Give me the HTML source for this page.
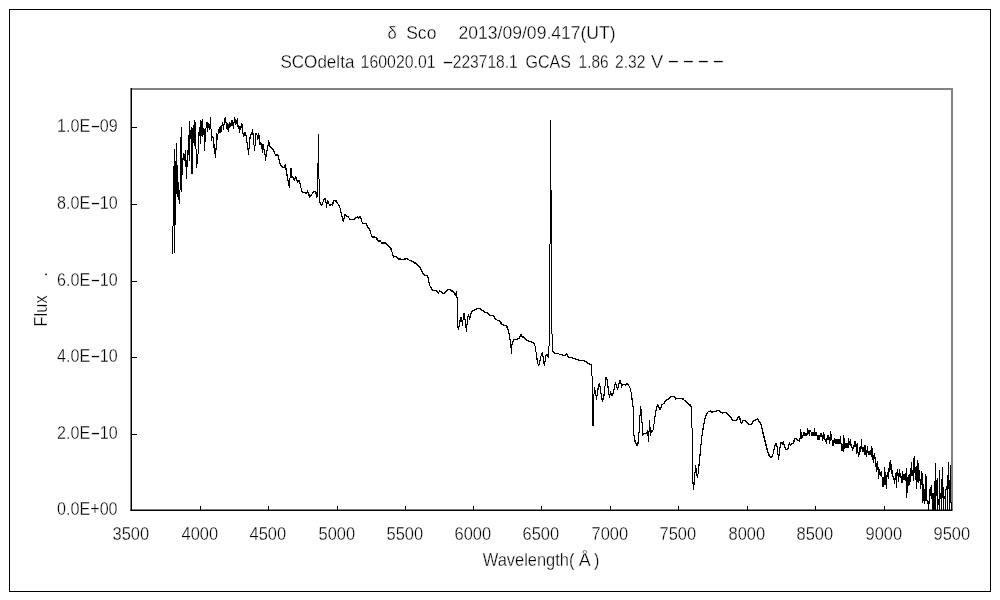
<!DOCTYPE html>
<html lang="ja">
<head>
<meta charset="utf-8">
<title>δ Sco 2013/09/09.417(UT)</title>
<style>
html,body{margin:0;padding:0;background:#fff;}
body{width:1000px;height:600px;overflow:hidden;}
svg{display:block;filter:grayscale(1);}
text{font-family:"Liberation Sans","IPAGothic",sans-serif;font-size:17.6px;fill:#000;stroke:#fff;stroke-width:0.3px;paint-order:normal;}
</style>
</head>
<body>
<svg width="1000" height="600" viewBox="0 0 1000 600">
<rect x="0" y="0" width="1000" height="600" fill="#fff"/>
<rect x="9.5" y="9.5" width="981" height="582" fill="none" stroke="#000" stroke-width="1"/>
<path d="M131 89H953" stroke="#828282" stroke-width="2" fill="none"/>
<path d="M952 88V510" stroke="#828282" stroke-width="2" fill="none"/>
<path d="M131.25 88V511" stroke="#000" stroke-width="1.5" fill="none"/>
<path d="M130.5 510.25H952.5" stroke="#000" stroke-width="1.5" fill="none"/>
<path d="M200.5 506V510M268.5 506V510M337.5 506V510M405.5 506V510M473.5 506V510M541.5 506V510M610.5 506V510M678.5 506V510M747.5 506V510M815.5 506V510M884.5 506V510M131 434.5H137M131 357.5H137M131 281.5H137M131 204.5H137M131 127.5H137" stroke="#000" stroke-width="1" fill="none" shape-rendering="crispEdges"/>
<path d="M172.5 226V254M173.5 166V226M174.5 149V253M175.5 161V225M176.5 143V194M177.5 165V197M178.5 182V200M179.5 190V204M180.5 137V190M181.5 127V192M182.5 158V175M183.5 153V160M184.5 154V161M185.5 150V167M186.5 160V179M187.5 150V167M188.5 135V155M189.5 121V161M190.5 130V139M191.5 127V174M192.5 128V174M193.5 125V143M194.5 120V146M195.5 122V149M196.5 149V168M197.5 154V164M198.5 132V154M199.5 127V136M200.5 120V144M201.5 121V136M202.5 119V137M203.5 128V135M204.5 129V151M205.5 128V142M206.5 122V128M207.5 122V132M208.5 123V128M209.5 124V130M210.5 117V129M211.5 129V141M212.5 136V138M213.5 137V148M214.5 144V154M215.5 148V158M216.5 133V150M217.5 134V140M218.5 129V134M219.5 127V133M220.5 126V133M221.5 125V132M222.5 122V126M223.5 124V130M224.5 118V125M225.5 117V123M226.5 122V129M227.5 123V130M228.5 124V132M229.5 122V128M230.5 123V127M231.5 120V126M232.5 120V126M233.5 122V129M234.5 117V123M235.5 119V125M236.5 120V124M237.5 118V127M238.5 125V129M239.5 126V133M240.5 126V130M241.5 123V128M242.5 124V134M243.5 133V137M244.5 132V136M245.5 132V136M246.5 135V143M247.5 142V150M248.5 148V155M249.5 137V149M250.5 134V139M251.5 132V135M252.5 129V135M253.5 133V145M254.5 145V151M255.5 133V146M256.5 133V135M257.5 135V140M258.5 133V139M259.5 135V145M260.5 142V145M261.5 143V149M262.5 144V153M263.5 144V150M264.5 149V155M265.5 154V161M266.5 150V157M267.5 145V151M268.5 140V146M269.5 142V147M270.5 146V148M271.5 147V149M272.5 148V150M273.5 149V152M274.5 151V154M275.5 154V156M276.5 154V156M277.5 154V156M278.5 155V160M279.5 159V164M280.5 163V166M281.5 165V167M282.5 166V168M283.5 167V168M284.5 165V168M285.5 164V170M286.5 168V176M287.5 174V181M288.5 180V186M289.5 178V188M290.5 168V178M291.5 168V178M292.5 176V178M293.5 177V180M294.5 178V181M295.5 176V179M296.5 177V181M297.5 180V183M298.5 180V182M299.5 180V184M300.5 183V188M301.5 188V192M302.5 191V193M303.5 192V193M304.5 192V193M305.5 192V194M306.5 192V194M307.5 190V193M308.5 192V196M309.5 194V198M310.5 195V197M311.5 194V196M312.5 192V194M313.5 191V193M314.5 191V192M315.5 191V194M316.5 192V198M317.5 163V197M318.5 134V179M319.5 179V203M320.5 202V205M321.5 204V206M322.5 202V205M323.5 199V202M324.5 198V200M325.5 198V203M326.5 202V208M327.5 200V204M328.5 201V204M329.5 204V206M330.5 204V206M331.5 204V205M332.5 202V206M333.5 200V204M334.5 200V201M335.5 200V202M336.5 200V203M337.5 202V204M338.5 204V206M339.5 205V208M340.5 208V213M341.5 212V217M342.5 216V221M343.5 218V222M344.5 214V219M345.5 214V216M346.5 215V217M347.5 216V217M348.5 216V218M349.5 218V220M350.5 219V220M351.5 219V220M352.5 219V220M353.5 219V220M354.5 218V220M355.5 217V219M356.5 217V218M357.5 216V218M358.5 217V219M359.5 216V218M360.5 216V219M361.5 218V222M362.5 222V224M363.5 223V224M364.5 223V224M365.5 223V224M366.5 223V226M367.5 225V228M368.5 227V229M369.5 228V231M370.5 230V234M371.5 234V237M372.5 236V238M373.5 236V238M374.5 236V238M375.5 237V238M376.5 237V240M377.5 238V241M378.5 240V242M379.5 240V242M380.5 240V242M381.5 242V244M382.5 242V244M383.5 242V244M384.5 242V244M385.5 242V244M386.5 243V245M387.5 244V246M388.5 245V247M389.5 246V248M390.5 247V250M391.5 248V252M392.5 252V256M393.5 255V258M394.5 256V257M395.5 256V257M396.5 256V258M397.5 257V259M398.5 258V260M399.5 258V260M400.5 258V260M401.5 259V260M402.5 259V260M403.5 259V260M404.5 258V260M405.5 258V260M406.5 258V259M407.5 258V260M408.5 259V260M409.5 260V261M410.5 260V261M411.5 260V262M412.5 261V262M413.5 261V263M414.5 262V264M415.5 262V264M416.5 263V265M417.5 264V266M418.5 265V267M419.5 266V268M420.5 267V270M421.5 269V272M422.5 271V274M423.5 273V275M424.5 274V276M425.5 275V276M426.5 275V276M427.5 275V278M428.5 277V283M429.5 282V286M430.5 286V288M431.5 287V290M432.5 289V291M433.5 290V291M434.5 290V291M435.5 290V291M436.5 290V292M437.5 291V293M438.5 292V294M439.5 290V292M440.5 291V292M441.5 291V293M442.5 292V294M443.5 293V294M444.5 292V294M445.5 291V293M446.5 290V292M447.5 289V291M448.5 289V290M449.5 289V290M450.5 289V291M451.5 290V292M452.5 290V292M453.5 291V293M454.5 292V295M455.5 293V296M456.5 291V298M457.5 297V328M458.5 326V330M459.5 320V327M460.5 317V322M461.5 317V322M462.5 320V326M463.5 313V320M464.5 313V320M465.5 319V328M466.5 324V332M467.5 316V325M468.5 314V317M469.5 316V320M470.5 313V318M471.5 311V314M472.5 310V312M473.5 310V311M474.5 309V311M475.5 309V310M476.5 308V310M477.5 308V309M478.5 308V309M479.5 308V309M480.5 308V310M481.5 309V311M482.5 310V311M483.5 310V312M484.5 311V313M485.5 312V313M486.5 312V313M487.5 312V314M488.5 313V315M489.5 314V316M490.5 315V316M491.5 315V316M492.5 315V316M493.5 315V317M494.5 316V319M495.5 318V320M496.5 319V320M497.5 320V321M498.5 320V321M499.5 320V322M500.5 321V324M501.5 322V325M502.5 324V325M503.5 324V326M504.5 325V326M505.5 325V326M506.5 325V328M507.5 326V330M508.5 329V334M509.5 333V340M510.5 339V348M511.5 344V354M512.5 341V345M513.5 339V342M514.5 339V340M515.5 339V340M516.5 339V340M517.5 338V340M518.5 338V339M519.5 336V339M520.5 334V337M521.5 334V337M522.5 336V338M523.5 336V338M524.5 337V339M525.5 338V340M526.5 339V341M527.5 340V341M528.5 340V342M529.5 341V342M530.5 341V342M531.5 341V343M532.5 342V343M533.5 342V344M534.5 343V346M535.5 346V352M536.5 352V360M537.5 358V364M538.5 364V366M539.5 360V365M540.5 356V361M541.5 353V356M542.5 352V357M543.5 356V364M544.5 361V366M545.5 355V362M546.5 354V356M547.5 354V357M548.5 346V358M549.5 244V346M550.5 120V244M551.5 190V334M552.5 334V352M553.5 351V353M554.5 352V354M555.5 353V354M556.5 353V354M557.5 353V354M558.5 353V354M559.5 354V355M560.5 354V355M561.5 354V355M562.5 354V356M563.5 355V356M564.5 355V356M565.5 354V356M566.5 353V355M567.5 354V357M568.5 356V358M569.5 357V358M570.5 357V358M571.5 357V358M572.5 357V359M573.5 358V359M574.5 358V359M575.5 358V360M576.5 359V360M577.5 359V360M578.5 359V361M579.5 360V361M580.5 360V361M581.5 360V361M582.5 360V361M583.5 360V361M584.5 360V362M585.5 361V362M586.5 361V363M587.5 362V364M588.5 363V364M589.5 363V365M590.5 364V365M591.5 364V376M592.5 376V426M593.5 394V426M594.5 387V394M595.5 390V396M596.5 395V400M597.5 388V396M598.5 384V390M599.5 383V387M600.5 386V394M601.5 393V400M602.5 398V402M603.5 394V400M604.5 386V396M605.5 377V386M606.5 377V380M607.5 379V388M608.5 386V395M609.5 394V398M610.5 391V395M611.5 393V396M612.5 393V396M613.5 389V394M614.5 384V390M615.5 382V385M616.5 384V388M617.5 387V390M618.5 383V388M619.5 380V384M620.5 380V384M621.5 383V388M622.5 384V386M623.5 384V385M624.5 384V385M625.5 384V386M626.5 383V385M627.5 383V385M628.5 384V386M629.5 386V388M630.5 388V392M631.5 392V400M632.5 398V407M633.5 406V436M634.5 435V442M635.5 440V444M636.5 443V446M637.5 442V446M638.5 432V444M639.5 415V433M640.5 406V416M641.5 409V423M642.5 422V436M643.5 433V435M644.5 433V434M645.5 433V434M646.5 432V434M647.5 430V436M648.5 431V442M649.5 420V432M650.5 427V436M651.5 430V433M652.5 430V432M653.5 424V430M654.5 416V424M655.5 410V417M656.5 406V411M657.5 404V407M658.5 405V408M659.5 407V410M660.5 407V410M661.5 404V408M662.5 404V405M663.5 403V404M664.5 401V404M665.5 400V402M666.5 399V401M667.5 399V400M668.5 398V400M669.5 397V399M670.5 396V398M671.5 396V397M672.5 396V397M673.5 396V397M674.5 396V398M675.5 397V400M676.5 398V399M677.5 398V399M678.5 398V399M679.5 398V399M680.5 398V399M681.5 398V399M682.5 398V400M683.5 398V400M684.5 400V401M685.5 400V402M686.5 401V403M687.5 402V404M688.5 403V405M689.5 404V406M690.5 404V407M691.5 406V428M692.5 428V484M693.5 482V490M694.5 472V485M695.5 465V473M696.5 468V476M697.5 474V478M698.5 464V474M699.5 454V466M700.5 444V456M701.5 435V445M702.5 428V436M703.5 423V430M704.5 418V424M705.5 415V419M706.5 413V416M707.5 412V414M708.5 411V412M709.5 411V412M710.5 410V412M711.5 411V413M712.5 411V413M713.5 411V412M714.5 411V412M715.5 411V412M716.5 410V412M717.5 410V411M718.5 410V411M719.5 410V412M720.5 411V413M721.5 412V413M722.5 412V414M723.5 412V413M724.5 412V413M725.5 412V413M726.5 412V414M727.5 413V415M728.5 414V416M729.5 415V417M730.5 416V418M731.5 417V420M732.5 419V421M733.5 420V421M734.5 420V421M735.5 420V421M736.5 419V421M737.5 417V420M738.5 416V418M739.5 416V420M740.5 418V423M741.5 422V424M742.5 420V423M743.5 420V421M744.5 420V421M745.5 420V422M746.5 421V423M747.5 422V424M748.5 423V425M749.5 424V425M750.5 424V425M751.5 423V425M752.5 421V424M753.5 420V422M754.5 420V421M755.5 419V421M756.5 419V420M757.5 418V420M758.5 419V422M759.5 421V423M760.5 422V425M761.5 424V429M762.5 428V434M763.5 432V438M764.5 436V442M765.5 440V446M766.5 444V450M767.5 448V453M768.5 452V456M769.5 454V457M770.5 456V458M771.5 456V458M772.5 454V457M773.5 449V454M774.5 445V450M775.5 443V446M776.5 443V447M777.5 446V455M778.5 454V460M779.5 447V456M780.5 442V448M781.5 442V444M782.5 442V445M783.5 441V445M784.5 444V448M785.5 447V450M786.5 449V450M787.5 448V450M788.5 444V449M789.5 442V445M790.5 444V446M791.5 443V445M792.5 443V444M793.5 440V444M794.5 438V442M795.5 438V439M796.5 438V440M797.5 439V441M798.5 440V441M799.5 438V442M800.5 429V439M801.5 432V439M802.5 435V438M803.5 432V436M804.5 432V436M805.5 433V436M806.5 433V436M807.5 428V435M808.5 430V434M809.5 430V436M810.5 430V432M811.5 432V436M812.5 432V436M813.5 432V436M814.5 428V436M815.5 432V436M816.5 432V436M817.5 435V440M818.5 435V440M819.5 435V440M820.5 433V437M821.5 433V437M822.5 435V441M823.5 432V439M824.5 434V440M825.5 439V442M826.5 438V444M827.5 435V440M828.5 435V440M829.5 437V444M830.5 431V441M831.5 434V440M832.5 440V446M833.5 440V446M834.5 438V443M835.5 439V444M836.5 439V444M837.5 439V444M838.5 439V444M839.5 439V444M840.5 436V444M841.5 443V451M842.5 444V451M843.5 435V452M844.5 438V449M845.5 443V448M846.5 443V448M847.5 443V448M848.5 438V448M849.5 441V445M850.5 439V446M851.5 444V448M852.5 447V451M853.5 445V449M854.5 441V447M855.5 441V447M856.5 444V454M857.5 443V453M858.5 452V457M859.5 447V455M860.5 446V452M861.5 439V449M862.5 447V452M863.5 447V452M864.5 445V455M865.5 445V455M866.5 450V457M867.5 446V453M868.5 451V455M869.5 451V455M870.5 450V455M871.5 446V457M872.5 448V460M873.5 455V463M874.5 453V459M875.5 457V467M876.5 463V472M877.5 461V470M878.5 467V479M879.5 469V475M880.5 472V476M881.5 471V477M882.5 477V487M883.5 477V487M884.5 467V485M885.5 472V485M886.5 475V489M887.5 472V477M888.5 468V479M889.5 462V472M890.5 460V470M891.5 464V474M892.5 470V477M893.5 476V480M894.5 478V484M895.5 473V480M896.5 472V488M897.5 469V476M898.5 473V482M899.5 469V477M900.5 473V478M901.5 476V483M902.5 471V483M903.5 474V480M904.5 474V480M905.5 473V481M906.5 468V498M907.5 477V493M908.5 475V486M909.5 474V485M910.5 468V482M911.5 462V476M912.5 470V476M913.5 458V481M914.5 456V473M915.5 467V480M916.5 466V489M917.5 460V482M918.5 463V483M919.5 470V481M920.5 479V489M921.5 471V485M922.5 473V503M923.5 484V501M924.5 489V504M925.5 474V501M926.5 476V501M927.5 500V504M928.5 501V510M929.5 489V504M930.5 487V496M931.5 485V499M932.5 493V510M933.5 493V510M934.5 481V510M935.5 463V510M936.5 480V496M937.5 478V510M938.5 499V505M939.5 470V510M940.5 493V499M941.5 479V510M942.5 467V498M943.5 487V510M944.5 496V499M945.5 489V510M946.5 486V490M947.5 475V510M948.5 462V489M949.5 480V510M950.5 465V503M951.5 502V510" stroke="#000" stroke-width="1" fill="none" shape-rendering="crispEdges"/>
<g>
<text x="57.0" y="515.4" text-anchor="start" textLength="60.6" lengthAdjust="spacingAndGlyphs">0.0E+00</text>
<text x="57.0" y="439.4" text-anchor="start" textLength="60.6" lengthAdjust="spacingAndGlyphs">2.0E<tspan textLength="10.4" lengthAdjust="spacingAndGlyphs">-</tspan>10</text>
<text x="57.0" y="362.4" text-anchor="start" textLength="60.6" lengthAdjust="spacingAndGlyphs">4.0E<tspan textLength="10.4" lengthAdjust="spacingAndGlyphs">-</tspan>10</text>
<text x="57.0" y="286.4" text-anchor="start" textLength="60.6" lengthAdjust="spacingAndGlyphs">6.0E<tspan textLength="10.4" lengthAdjust="spacingAndGlyphs">-</tspan>10</text>
<text x="57.0" y="209.4" text-anchor="start" textLength="60.6" lengthAdjust="spacingAndGlyphs">8.0E<tspan textLength="10.4" lengthAdjust="spacingAndGlyphs">-</tspan>10</text>
<text x="57.0" y="132.4" text-anchor="start" textLength="60.6" lengthAdjust="spacingAndGlyphs">1.0E<tspan textLength="10.4" lengthAdjust="spacingAndGlyphs">-</tspan>09</text>
<text x="112.5" y="539.8" text-anchor="start" textLength="36.6" lengthAdjust="spacingAndGlyphs">3500</text>
<text x="181.5" y="539.8" text-anchor="start" textLength="36.6" lengthAdjust="spacingAndGlyphs">4000</text>
<text x="249.5" y="539.8" text-anchor="start" textLength="36.6" lengthAdjust="spacingAndGlyphs">4500</text>
<text x="318.5" y="539.8" text-anchor="start" textLength="36.6" lengthAdjust="spacingAndGlyphs">5000</text>
<text x="386.5" y="539.8" text-anchor="start" textLength="36.6" lengthAdjust="spacingAndGlyphs">5500</text>
<text x="454.5" y="539.8" text-anchor="start" textLength="36.6" lengthAdjust="spacingAndGlyphs">6000</text>
<text x="522.5" y="539.8" text-anchor="start" textLength="36.6" lengthAdjust="spacingAndGlyphs">6500</text>
<text x="591.5" y="539.8" text-anchor="start" textLength="36.6" lengthAdjust="spacingAndGlyphs">7000</text>
<text x="659.5" y="539.8" text-anchor="start" textLength="36.6" lengthAdjust="spacingAndGlyphs">7500</text>
<text x="728.5" y="539.8" text-anchor="start" textLength="36.6" lengthAdjust="spacingAndGlyphs">8000</text>
<text x="796.5" y="539.8" text-anchor="start" textLength="36.6" lengthAdjust="spacingAndGlyphs">8500</text>
<text x="865.5" y="539.8" text-anchor="start" textLength="36.6" lengthAdjust="spacingAndGlyphs">9000</text>
<text x="933.5" y="539.8" text-anchor="start" textLength="36.6" lengthAdjust="spacingAndGlyphs">9500</text>
<text y="38.6"><tspan x="387.6" textLength="9.2" lengthAdjust="spacingAndGlyphs">δ</tspan> <tspan x="406.2" textLength="30.2" lengthAdjust="spacingAndGlyphs">Sco</tspan> <tspan x="458.6" textLength="157" lengthAdjust="spacingAndGlyphs">2013/09/09.417(UT)</tspan></text>
<text y="67.6"><tspan x="280.4" textLength="74" lengthAdjust="spacingAndGlyphs">SCOdelta</tspan> <tspan x="360.6" textLength="75" lengthAdjust="spacingAndGlyphs">160020.01</tspan> <tspan x="441.8" textLength="76" lengthAdjust="spacingAndGlyphs"><tspan textLength="12.4" lengthAdjust="spacingAndGlyphs">-</tspan>223718.1</tspan> <tspan x="525.4" textLength="45.6" lengthAdjust="spacingAndGlyphs">GCAS</tspan> <tspan x="578.6" textLength="30" lengthAdjust="spacingAndGlyphs">1.86</tspan> <tspan x="615" textLength="30.4" lengthAdjust="spacingAndGlyphs">2.32</tspan> <tspan x="651" textLength="12.2" lengthAdjust="spacingAndGlyphs">V</tspan> <tspan x="667.1" y="66.6" textLength="12.8" lengthAdjust="spacingAndGlyphs">-</tspan> <tspan x="682.1" y="66.6" textLength="12.8" lengthAdjust="spacingAndGlyphs">-</tspan> <tspan x="697.1" y="66.6" textLength="12.8" lengthAdjust="spacingAndGlyphs">-</tspan> <tspan x="712.1" y="66.6" textLength="12.8" lengthAdjust="spacingAndGlyphs">-</tspan></text>
<text y="565.8"><tspan x="482.8" textLength="91.6" lengthAdjust="spacingAndGlyphs">Wavelength(</tspan><tspan x="578.8" textLength="12" lengthAdjust="spacingAndGlyphs">Å</tspan><tspan x="594" textLength="5.4" lengthAdjust="spacingAndGlyphs">)</tspan></text>
<text y="0" transform="translate(47.3 326.4) rotate(-90)"><tspan x="0" textLength="31" lengthAdjust="spacingAndGlyphs">Flux</tspan> <tspan x="49.6">.</tspan></text>
</g>
</svg>
</body>
</html>
